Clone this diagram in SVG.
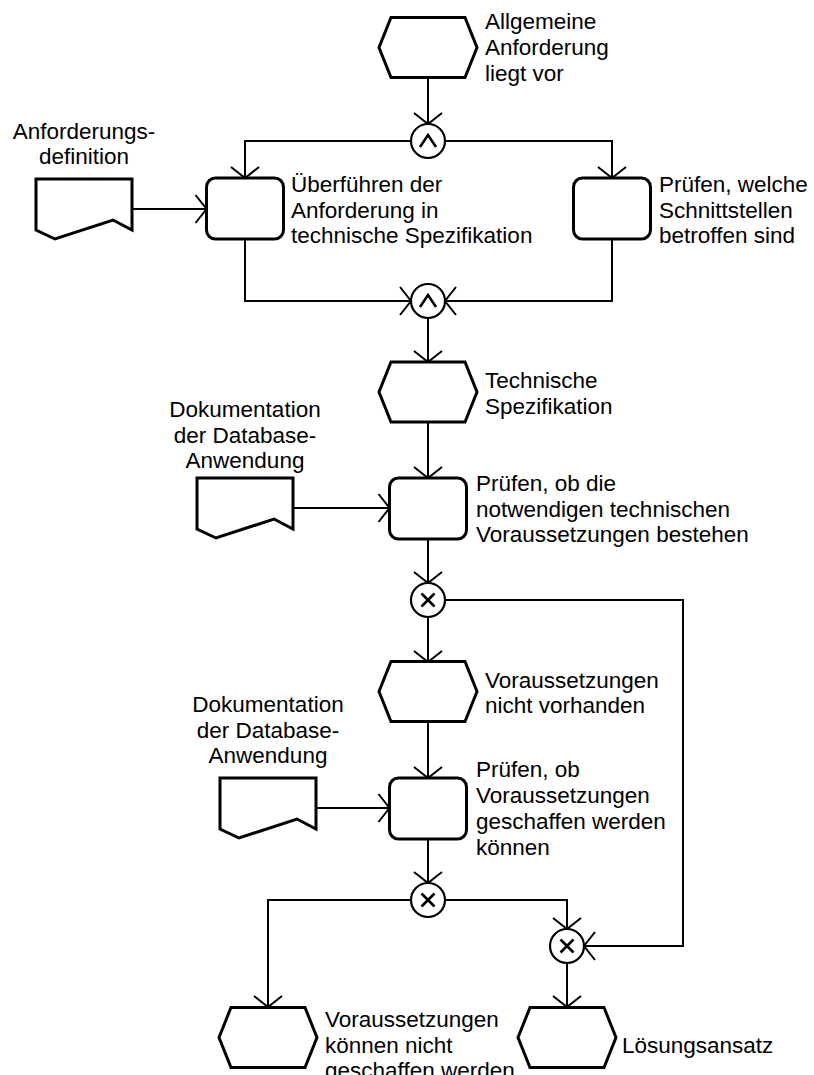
<svg xmlns="http://www.w3.org/2000/svg" width="814" height="1075" viewBox="0 0 814 1075">
  <style>
    .node { fill: #ffffff; stroke: #000000; stroke-width: 3; stroke-linejoin: miter; }
    .op { fill: #ffffff; stroke: #000000; stroke-width: 2.2; }
    .sym { fill: none; stroke: #000000; stroke-width: 2.6; stroke-linecap: butt; }
    .conn { fill: none; stroke: #000000; stroke-width: 2; }
    text { font-family: "Liberation Sans", Arial, sans-serif; font-size: 22.5px; fill: #000000; }
    .mid { text-anchor: middle; }
  </style>
  <defs>
    <marker id="arrow" markerUnits="userSpaceOnUse" viewBox="-14 -16 16 32" markerWidth="16" markerHeight="32" refX="0" refY="0" orient="auto" overflow="visible">
      <path d="M-11,-14 L0,0 L-11,14" fill="none" stroke="#000000" stroke-width="2"/>
    </marker>
    <!-- event (hexagon), function (rounded box), document shapes -->
    <polygon id="hex" points="-49,0 -37,-30 37,-30 49,0 37,30 -37,30"/>
    <path id="doc" d="M0,0 H96 V51 L77,41 L19,60 L0,51 Z"/>
  </defs>

  <!-- connectors -->
  <g id="connectors" class="conn">
    <path d="M428,78 V124" marker-end="url(#arrow)"/>
    <path d="M411,141 H245 V178" marker-end="url(#arrow)"/>
    <path d="M445,141 H612 V178" marker-end="url(#arrow)"/>
    <path d="M132,209 H206.5" marker-end="url(#arrow)"/>
    <path d="M245,239 V301 H411" marker-end="url(#arrow)"/>
    <path d="M612,239 V301 H445" marker-end="url(#arrow)"/>
    <path d="M428,318 V362" marker-end="url(#arrow)"/>
    <path d="M428,422 V478" marker-end="url(#arrow)"/>
    <path d="M293,508 H389.5" marker-end="url(#arrow)"/>
    <path d="M428,539 V583" marker-end="url(#arrow)"/>
    <path d="M428,617 V662" marker-end="url(#arrow)"/>
    <path d="M445,600 H683 V946 H584" marker-end="url(#arrow)"/>
    <path d="M428,721 V778" marker-end="url(#arrow)"/>
    <path d="M316,808 H389.5" marker-end="url(#arrow)"/>
    <path d="M428,839 V883" marker-end="url(#arrow)"/>
    <path d="M411,900 H268 V1007" marker-end="url(#arrow)"/>
    <path d="M445,900 H567 V929" marker-end="url(#arrow)"/>
    <path d="M567,963 V1007" marker-end="url(#arrow)"/>
  </g>

  <!-- events -->
  <g id="ev-allgemeine-anforderung">
    <use href="#hex" class="node" transform="translate(428,47.5)"/>
    <text x="485" y="29">Allgemeine</text>
    <text x="485" y="55">Anforderung</text>
    <text x="485" y="81">liegt vor</text>
  </g>
  <g id="ev-technische-spezifikation">
    <use href="#hex" class="node" transform="translate(428,392)"/>
    <text x="485" y="388">Technische</text>
    <text x="485" y="414">Spezifikation</text>
  </g>
  <g id="ev-nicht-vorhanden">
    <use href="#hex" class="node" transform="translate(428,691.5)"/>
    <text x="485" y="688">Voraussetzungen</text>
    <text x="485" y="713">nicht vorhanden</text>
  </g>
  <g id="ev-nicht-geschaffen">
    <use href="#hex" class="node" transform="translate(268,1037.5)"/>
    <text x="325" y="1027">Voraussetzungen</text>
    <text x="325" y="1052.5">können nicht</text>
    <text x="325" y="1078">geschaffen werden</text>
  </g>
  <g id="ev-loesungsansatz">
    <use href="#hex" class="node" transform="translate(567,1037.5)"/>
    <text x="622" y="1053">Lösungsansatz</text>
  </g>

  <!-- functions -->
  <g id="fn-ueberfuehren">
    <rect class="node" x="206.5" y="178" width="77" height="61" rx="9"/>
    <text x="291" y="192">Überführen der</text>
    <text x="291" y="218">Anforderung in</text>
    <text x="291" y="243">technische Spezifikation</text>
  </g>
  <g id="fn-schnittstellen">
    <rect class="node" x="573.5" y="178" width="77" height="61" rx="9"/>
    <text x="659" y="192">Prüfen, welche</text>
    <text x="659" y="218">Schnittstellen</text>
    <text x="659" y="243">betroffen sind</text>
  </g>
  <g id="fn-voraussetzungen-pruefen">
    <rect class="node" x="389.5" y="478" width="77" height="61" rx="9"/>
    <text x="476" y="491">Prüfen, ob die</text>
    <text x="476" y="517">notwendigen technischen</text>
    <text x="476" y="542">Voraussetzungen bestehen</text>
  </g>
  <g id="fn-voraussetzungen-schaffen">
    <rect class="node" x="389.5" y="778" width="77" height="61" rx="9"/>
    <text x="476" y="777">Prüfen, ob</text>
    <text x="476" y="803">Voraussetzungen</text>
    <text x="476" y="829">geschaffen werden</text>
    <text x="476" y="855">können</text>
  </g>

  <!-- documents -->
  <g id="doc-anforderungsdefinition">
    <use href="#doc" class="node" transform="translate(36,179)"/>
    <text class="mid" x="84" y="139">Anforderungs-</text>
    <text class="mid" x="84" y="164">definition</text>
  </g>
  <g id="doc-dokumentation-1">
    <use href="#doc" class="node" transform="translate(197,478)"/>
    <text class="mid" x="245" y="417">Dokumentation</text>
    <text class="mid" x="245" y="443">der Database-</text>
    <text class="mid" x="245" y="468">Anwendung</text>
  </g>
  <g id="doc-dokumentation-2">
    <use href="#doc" class="node" transform="translate(220,778)"/>
    <text class="mid" x="268" y="712">Dokumentation</text>
    <text class="mid" x="268" y="738">der Database-</text>
    <text class="mid" x="268" y="763">Anwendung</text>
  </g>

  <!-- operators -->
  <g id="and-split">
    <circle class="op" cx="428" cy="141" r="17"/>
    <path class="sym" d="M420,147 L428,135 L436,147"/>
  </g>
  <g id="and-join">
    <circle class="op" cx="428" cy="301" r="17"/>
    <path class="sym" d="M420,307 L428,295 L436,307"/>
  </g>
  <g id="xor-split-1">
    <circle class="op" cx="428" cy="600" r="17"/>
    <path class="sym" d="M421.5,593.5 L434.5,606.5 M434.5,593.5 L421.5,606.5"/>
  </g>
  <g id="xor-split-2">
    <circle class="op" cx="428" cy="900" r="17"/>
    <path class="sym" d="M421.5,893.5 L434.5,906.5 M434.5,893.5 L421.5,906.5"/>
  </g>
  <g id="xor-join">
    <circle class="op" cx="567" cy="946" r="17"/>
    <path class="sym" d="M560.5,939.5 L573.5,952.5 M573.5,939.5 L560.5,952.5"/>
  </g>
</svg>
